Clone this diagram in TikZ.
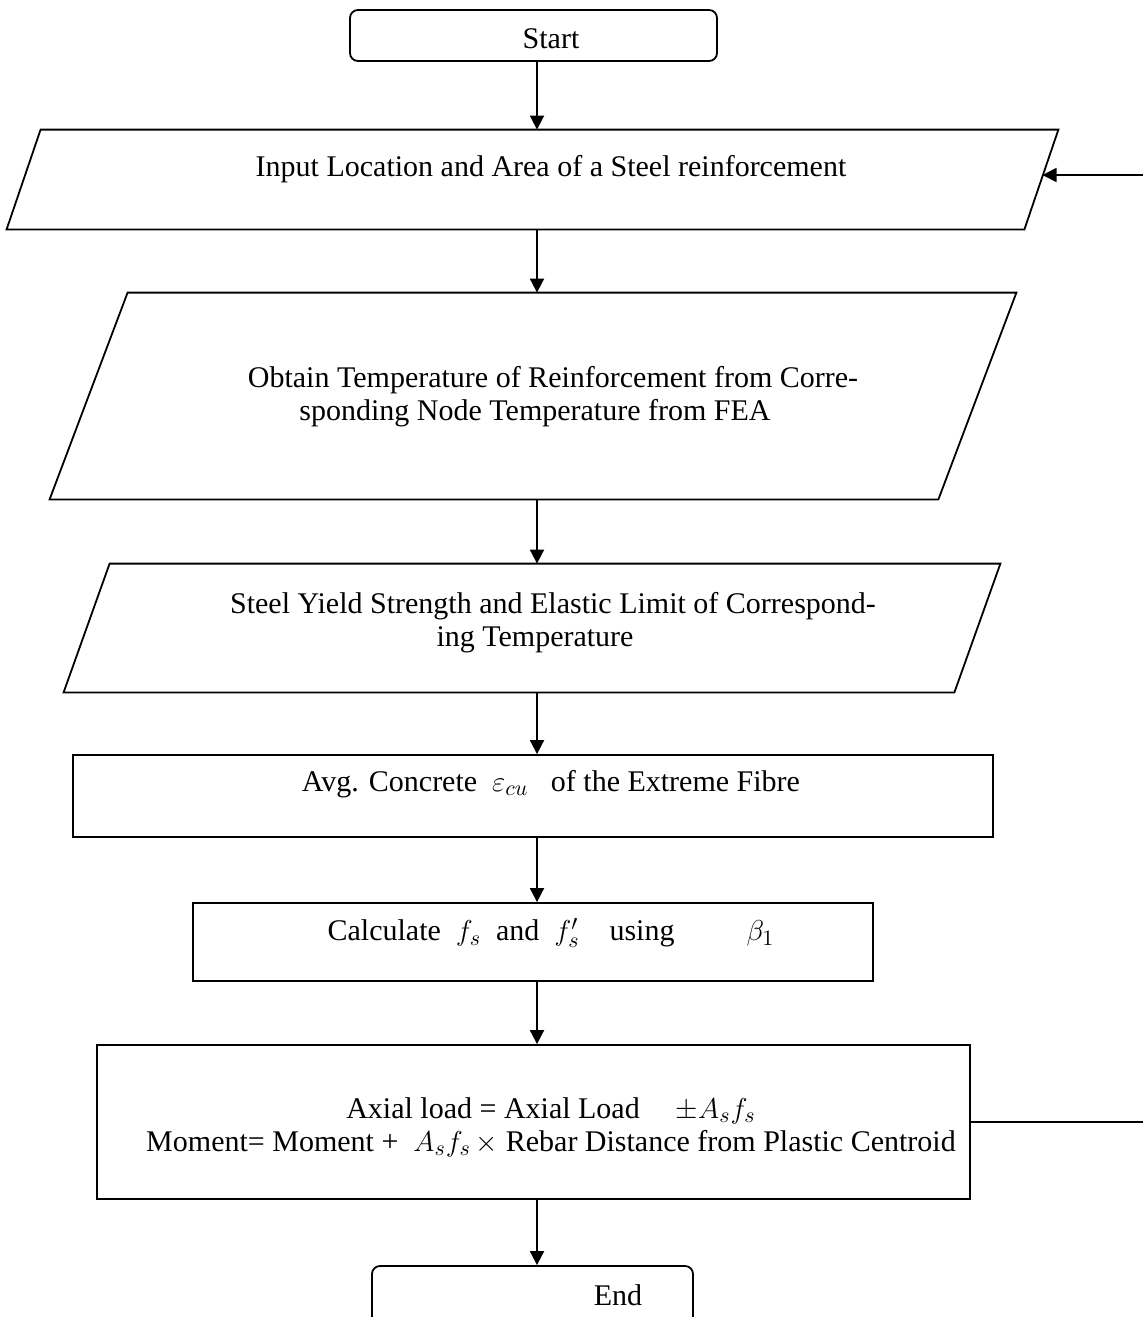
\documentclass[tikz,border=0pt]{standalone}
\usepackage{fontspec}
\setmainfont{Liberation Serif}
\usetikzlibrary{arrows.meta,calc}
\begin{document}
\begin{tikzpicture}[x=0.5pt,y=-0.5pt,
  every node/.style={font=\fontsize{15}{16.5}\selectfont},
  line/.style={line width=0.9pt,draw=black},
  arr/.style={line width=0.9pt,-{Triangle[length=7pt,width=7pt]}},
  termbox/.style={line,rounded corners=4pt,inner sep=0pt},
  procbox/.style={line,inner sep=0pt},
  ghost/.style={draw=none,inner sep=0pt},
  txt/.style={align=center,inner sep=0pt}]
\useasboundingbox (0,0) rectangle (1143,1317);
\clip (0,0) rectangle (1143,1317);
\coordinate (axis) at (537,0);
% Start
\node[termbox,minimum width=183.5pt,minimum height=25.5pt] (start) at (533.5,35.5) {};
\node[txt] (starttxt) at (551,39) {Start};
% Input parallelogram
\node[ghost,minimum width=525.5pt,minimum height=49.5pt] (inp) at (532.5,179.5) {};
\draw[line] ($(inp.north west)+(34,0)$) -- (inp.north east) -- ($(inp.south east)-(34,0)$) -- (inp.south west) -- cycle;
\node[txt] (inptxt) at (551,169) {Input Location and Area of a Steel reinforcement};
% Obtain parallelogram
\node[ghost,minimum width=483pt,minimum height=103pt] (obt) at (533,396) {};
\draw[line] ($(obt.north west)+(78,0)$) -- (obt.north east) -- ($(obt.south east)-(78,0)$) -- (obt.south west) -- cycle;
\node[txt] (obttxt) at (553,397) {Obtain Temperature of Reinforcement from Corre-\\sponding Node Temperature from FEA\hspace*{18pt}};
% Steel parallelogram
\node[ghost,minimum width=468pt,minimum height=64pt] (stl) at (532,628) {};
\draw[line] ($(stl.north west)+(46,0)$) -- (stl.north east) -- ($(stl.south east)-(46,0)$) -- (stl.south west) -- cycle;
\node[txt] (stltxt) at (553,623) {Steel Yield Strength and Elastic Limit of Correspond-\\ing Temperature\hspace*{18pt}};
% Avg box
\node[procbox,minimum width=460pt,minimum height=41pt] (avg) at (533,796) {};
\node[txt] (avgtxt) at (551,784) {Avg. Concrete\ \ $\varepsilon_{cu}$\ \ \ of the Extreme Fibre};
% Calculate box
\node[procbox,minimum width=340pt,minimum height=39pt] (calc) at (533,942) {};
\node[txt] (calctxt) at (551,933) {Calculate\ \ $f_s$\ \ and\ \ $f'_s$\ \ \ \ using\hspace{2.4em}$\beta_1$};
% Axial box
\node[procbox,minimum width=436.5pt,minimum height=77pt] (ax) at (533.5,1122) {};
\node[txt] (axtxt) at (551,1127) {Axial load = Axial Load\hspace{1.2em}$\pm A_s f_s$\\Moment= Moment +\ \ $A_s f_s$\,$\times$ Rebar Distance from Plastic Centroid};
% End
\node[termbox,minimum width=160.5pt,minimum height=30pt] (endb) at (532.5,1296) {};
\node[txt] (endtxt) at (618,1295) {End};
% Connectors
\draw[arr] (start.south -| axis) -- (inp.north -| axis);
\draw[arr] (inp.south -| axis) -- (obt.north -| axis);
\draw[arr] (obt.south -| axis) -- (stl.north -| axis);
\draw[arr] (stl.south -| axis) -- (avg.north -| axis);
\draw[arr] (avg.south -| axis) -- (calc.north -| axis);
\draw[arr] (calc.south -| axis) -- (ax.north -| axis);
\draw[arr] (ax.south -| axis) -- (endb.north -| axis);
% Loop
\coordinate (loopB) at (1143,1122);
\coordinate (loopT) at (1143,175);
\coordinate (inpR) at (1042.5,175);
\draw[line] (ax.east) -- (loopB);
\draw[arr] (loopT) -- (inpR);
\end{tikzpicture}
\end{document}
